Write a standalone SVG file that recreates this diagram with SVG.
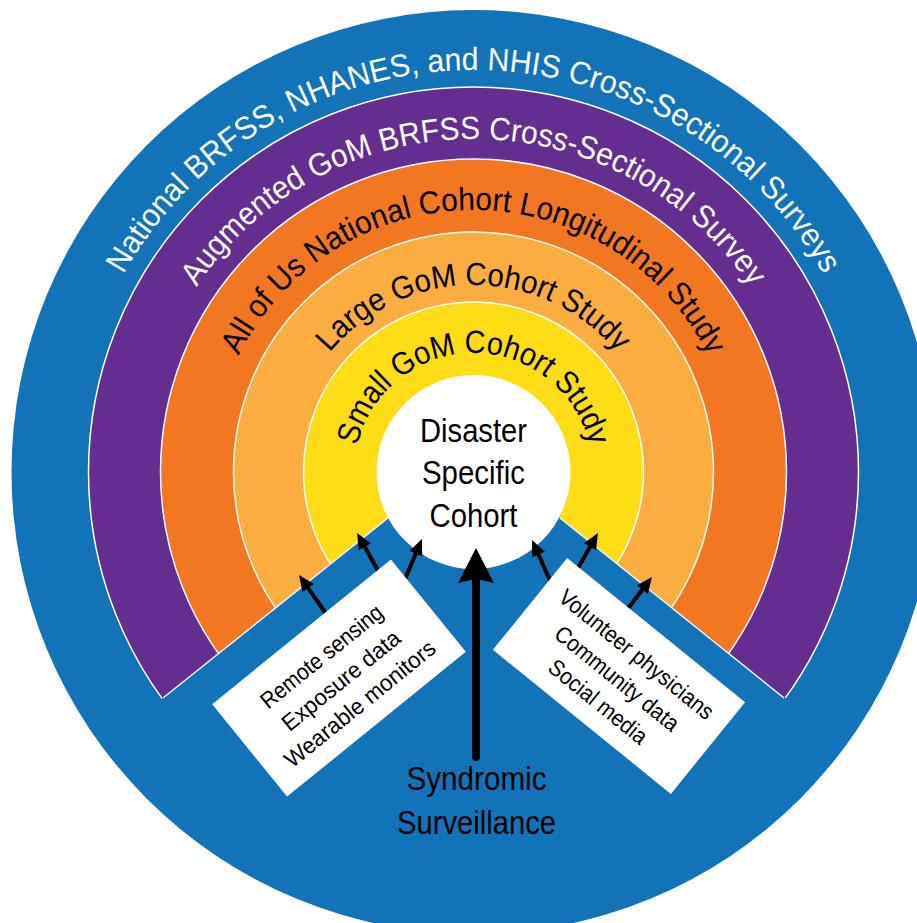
<svg xmlns="http://www.w3.org/2000/svg" width="917" height="923" viewBox="0 0 917 923">
<style>
  .ring{stroke:#fff;stroke-width:1.5}
  .rt{font-family:'Liberation Sans',Arial,sans-serif;font-size:32px;text-anchor:middle}
  .w{fill:#fff}
  .k{fill:#000}
  .ct{font-family:'Liberation Sans',Arial,sans-serif;font-size:32.5px;text-anchor:middle;fill:#000}
  .bt{font-family:'Liberation Sans',Arial,sans-serif;font-size:23px;text-anchor:middle;fill:#000}
  .arr{stroke:#000;stroke-width:4;fill:none;marker-end:url(#ah)}
  .cut{stroke:#fff;stroke-width:1.3;fill:none}
</style>
<defs>
  <marker id="ah" viewBox="0 0 16 14" refX="4" refY="7" markerWidth="16" markerHeight="14" markerUnits="userSpaceOnUse" orient="auto">
    <path d="M0,0 L16,7 L0,14 Z" fill="#000"/>
  </marker>
  <path id="p1" d="M125.4,673 A402,402 0 0,1 473.5,70 A402,402 0 0,1 821.6,673"/>
  <path id="p2" d="M185.1,638.5 A333,333 0 0,1 473.5,139 A333,333 0 0,1 761.9,638.5"/>
  <path id="p3" d="M246.6,603 A262,262 0 0,1 473.5,210 A262,262 0 0,1 700.4,603"/>
  <path id="p4" d="M311.6,565.5 A187,187 0 0,1 473.5,285 A187,187 0 0,1 635.4,565.5"/>
  <path id="p5" d="M370.4,531.5 A119,119 0 0,1 473.5,353 A119,119 0 0,1 576.6,531.5"/>
</defs>
<rect width="917" height="923" fill="#fff"/>

<g id="ring-national">
  <circle cx="473.5" cy="472" r="462" fill="#1273B9"/>
</g>
<g id="ring-augmented">
  <circle class="ring" cx="473.5" cy="472" r="385" fill="#652D8F"/>
</g>
<g id="ring-allofus">
  <circle class="ring" cx="473.5" cy="472" r="313" fill="#F37621"/>
</g>
<g id="ring-large">
  <circle class="ring" cx="473.5" cy="472" r="240" fill="#FBAD3F"/>
</g>
<g id="ring-small">
  <circle class="ring" cx="473.5" cy="472" r="170" fill="#FEDD17"/>
</g>

<g id="wedge">
  <polygon points="474,449 140,716 300,880 474,900 648,880 808,716" fill="#1273B9"/>
  <line class="cut" x1="388" y1="518" x2="163" y2="698"/>
  <line class="cut" x1="560" y1="518" x2="784" y2="698"/>
</g>

<g id="ring-labels">
  <text class="rt w"><textPath href="#p1" startOffset="50%" textLength="850" lengthAdjust="spacingAndGlyphs">National BRFSS, NHANES, and NHIS Cross-Sectional Surveys</textPath></text>
  <text class="rt w"><textPath href="#p2" startOffset="50%" textLength="654" lengthAdjust="spacingAndGlyphs">Augmented GoM BRFSS Cross-Sectional Survey</textPath></text>
  <text class="rt k"><textPath href="#p3" startOffset="50%" textLength="582" lengthAdjust="spacingAndGlyphs">All of Us National Cohort Longitudinal Study</textPath></text>
  <text class="rt k"><textPath href="#p4" startOffset="50%" textLength="328" lengthAdjust="spacingAndGlyphs">Large GoM Cohort Study</textPath></text>
  <text class="rt k"><textPath href="#p5" startOffset="50%" textLength="321" lengthAdjust="spacingAndGlyphs">Small GoM Cohort Study</textPath></text>
</g>

<g id="core">
  <circle cx="473.5" cy="472" r="97" fill="#fff"/>
  <text class="ct" x="473.5" y="442" textLength="107" lengthAdjust="spacingAndGlyphs">Disaster</text>
  <text class="ct" x="473.5" y="484" textLength="103" lengthAdjust="spacingAndGlyphs">Specific</text>
  <text class="ct" x="473.5" y="527" textLength="88" lengthAdjust="spacingAndGlyphs">Cohort</text>
</g>

<g id="connectors">
  <line class="arr" x1="327" y1="615" x2="305.9" y2="584.8"/>
  <line class="arr" x1="381" y1="576" x2="362.9" y2="543.5"/>
  <line class="arr" x1="403" y1="584" x2="417.3" y2="550.1"/>
  <line class="arr" x1="552" y1="585" x2="536.9" y2="551"/>
  <line class="arr" x1="574" y1="575" x2="592" y2="543.4"/>
  <line class="arr" x1="623" y1="615" x2="644.7" y2="586.5"/>
  <line x1="476" y1="757" x2="476" y2="575" stroke="#000" stroke-width="8" stroke-linecap="round"/>
  <path d="M476,548 L494,583 L476,579 L458,583 Z" fill="#000"/>
</g>

<g id="box-left" transform="translate(339,678) rotate(-39)">
  <rect x="-115" y="-59.5" width="230" height="119" fill="#fff"/>
  <text class="bt" x="0" y="-20" textLength="150" lengthAdjust="spacingAndGlyphs">Remote sensing</text>
  <text class="bt" x="0" y="11" textLength="145" lengthAdjust="spacingAndGlyphs">Exposure data</text>
  <text class="bt" x="0" y="41" textLength="187" lengthAdjust="spacingAndGlyphs">Wearable monitors</text>
</g>

<g id="box-right" transform="translate(619,676) rotate(39)">
  <rect x="-114.5" y="-59" width="229" height="118" fill="#fff"/>
  <text class="bt" x="0" y="-20" textLength="192" lengthAdjust="spacingAndGlyphs">Volunteer physicians</text>
  <text class="bt" x="0" y="11" textLength="153" lengthAdjust="spacingAndGlyphs">Community data</text>
  <text class="bt" x="0" y="41" textLength="120" lengthAdjust="spacingAndGlyphs">Social media</text>
</g>

<g id="syndromic">
  <text class="ct" x="476.5" y="790" textLength="140" lengthAdjust="spacingAndGlyphs">Syndromic</text>
  <text class="ct" x="476.5" y="834" textLength="159" lengthAdjust="spacingAndGlyphs">Surveillance</text>
</g>
</svg>
